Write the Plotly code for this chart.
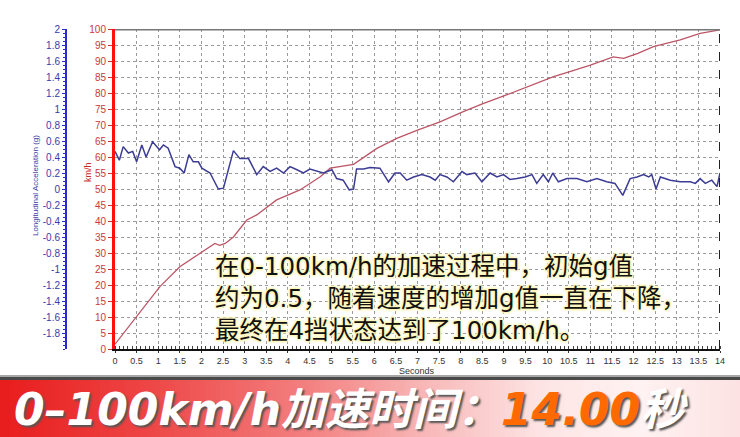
import plotly.graph_objects as go

# ---- data ----
speed_t = [0, 0.5, 1.04, 1.5, 1.97, 2.31, 2.42, 2.55, 2.74, 3.05, 3.28, 3.74, 4.28, 4.75, 4.98,
           5.52, 6.06, 6.52, 7.0, 7.52, 8.06, 8.5, 9.06, 9.6, 10.15, 10.6, 11.0, 11.53, 11.77,
           12.1, 12.46, 13.08, 13.54, 14.0]
speed_v = [1.5, 10.1, 19.5, 25.7, 29.9, 33.0, 32.4, 33.0, 35.0, 40.3, 41.9, 46.6, 49.7, 53.8, 56.5,
           57.7, 62.7, 65.8, 68.4, 71.0, 74.2, 76.6, 79.4, 82.3, 85.1, 87.0, 88.7, 91.3, 90.8,
           92.4, 94.5, 96.6, 98.6, 99.7]

g_t = [0, 0.10, 0.19, 0.31, 0.41, 0.50, 0.62, 0.72, 0.87, 1.03, 1.12, 1.23, 1.39, 1.50, 1.60,
       1.71, 1.81, 1.93, 2.01, 2.20, 2.39, 2.51, 2.74, 2.89, 2.97, 3.09, 3.28, 3.43, 3.59, 3.74,
       3.90, 4.05, 4.21, 4.36, 4.51, 4.67, 4.82, 5.02, 5.13, 5.28, 5.42, 5.52, 5.59, 5.75, 5.90,
       6.13, 6.33, 6.48, 6.60, 6.75, 6.91, 7.10, 7.29, 7.41, 7.52, 7.68, 7.83, 8.03, 8.14, 8.33,
       8.49, 8.68, 8.84, 8.99, 9.14, 9.30, 9.49, 9.65, 9.76, 9.91, 10.03, 10.13, 10.26, 10.46,
       10.69, 10.92, 11.15, 11.38, 11.57, 11.75, 11.92, 12.08, 12.23, 12.35, 12.42, 12.52, 12.62,
       12.85, 13.08, 13.31, 13.43, 13.54, 13.66, 13.81, 13.93, 14.0]
g_v = [0.47, 0.36, 0.53, 0.45, 0.47, 0.34, 0.55, 0.40, 0.59, 0.49, 0.55, 0.51, 0.28, 0.26, 0.20,
       0.43, 0.34, 0.34, 0.26, 0.20, 0.00, 0.01, 0.48, 0.38, 0.38, 0.38, 0.18, 0.28, 0.22, 0.26,
       0.20, 0.28, 0.24, 0.20, 0.25, 0.22, 0.20, 0.24, 0.13, 0.11, -0.01, 0.00, 0.25, 0.25, 0.27,
       0.26, 0.09, 0.20, 0.20, 0.11, 0.15, 0.18, 0.15, 0.11, 0.18, 0.15, 0.09, 0.22, 0.18, 0.20,
       0.09, 0.20, 0.15, 0.18, 0.12, 0.13, 0.15, 0.18, 0.07, 0.18, 0.09, 0.20, 0.09, 0.13,
       0.13, 0.09, 0.13, 0.09, 0.07, -0.08, 0.13, 0.15, 0.18, 0.15, 0.18, 0.00, 0.15,
       0.11, 0.09, 0.09, 0.07, 0.13, 0.07, 0.11, 0.03, 0.20]

x_tickvals = [i * 0.5 for i in range(29)]
x_ticktext = ["0", "0.5", "1", "1.5", "2", "2.5", "3", "3.5", "4", "4.5", "5", "5.5", "6", "6.5",
              "7", "7.5", "8", "8.5", "9", "9.5", "10", "10.5", "11", "11.5", "12", "12.5",
              "13", "13.5", "14"]
kmh_tickvals = list(range(0, 101, 5))
g_tickvals = [2, 1.8, 1.6, 1.4, 1.2, 1, 0.8, 0.6, 0.4, 0.2, 0, -0.2, -0.4, -0.6, -0.8, -1,
              -1.2, -1.4, -1.6, -1.8]
g_ticktext = ["2", "1.8", "1.6", "1.4", "1.2", "1", "0.8", "0.6", "0.4", "0.2", "0", "-0.2",
              "-0.4", "-0.6", "-0.8", "-1", "-1.2", "-1.4", "-1.6", "-1.8"]

note_lines = ["在0-100km/h的加速过程中，初始g值",
              "约为0.5，随着速度的增加g值一直在下降，",
              "最终在4挡状态达到了100km/h。"]
banner_main = "0–100km/h加速时间："
banner_time = "14.00"
banner_unit = "秒"

W, H = 740, 437
def px(x):
    return x / W
def py(y):
    return 1 - y / H

fig = go.Figure()
fig.add_trace(go.Scatter(x=speed_t, y=speed_v, mode="lines",
                         line=dict(color="#bc5666", width=1.3), yaxis="y", showlegend=False))
fig.add_trace(go.Scatter(x=g_t, y=g_v, mode="lines",
                         line=dict(color="#3c3c94", width=1.5), yaxis="y2", showlegend=False))

base_font = "Arial, Liberation Sans, sans-serif"

fig.update_layout(
    width=W, height=H,
    margin=dict(l=0, r=0, t=0, b=0, autoexpand=False),
    paper_bgcolor="white", plot_bgcolor="white",
    font=dict(family=base_font, size=10, color="#333"),
    xaxis=dict(domain=[px(115), px(720)], range=[0, 14], tickvals=x_tickvals, ticktext=x_ticktext,
               showgrid=True, gridcolor="#9a9a9a", griddash="dot", gridwidth=1,
               showline=True, linecolor="#111", linewidth=2, zeroline=False,
               ticks="outside", ticklen=2, tickcolor="#333",
               tickfont=dict(size=9, color="#333"), automargin=False,
               minor=dict(dtick=0.1, ticks="inside", ticklen=3, tickcolor="#444", showgrid=False)),
    yaxis=dict(domain=[1 - 349 / H, 1 - 29 / H], range=[0, 100], tickvals=kmh_tickvals,
               showgrid=True, gridcolor="#9a9a9a", griddash="dot", gridwidth=1,
               showline=True, linecolor="#ff1010", linewidth=3, zeroline=False,
               ticks="outside", ticklen=4, tickcolor="#d03030", automargin=False,
               tickfont=dict(size=10, color="#c83a3a")),
    yaxis2=dict(overlaying="y", anchor="free", position=px(66), side="left",
                range=[-2, 2], tickvals=g_tickvals, ticktext=g_ticktext,
                showgrid=False, zeroline=False, automargin=False,
                showline=True, linecolor="#2a2ad0", linewidth=2,
                ticks="outside", ticklen=3, tickcolor="#2a2ad0",
                tickfont=dict(size=10, color="#3a3aa8"),
                minor=dict(dtick=0.05, ticks="outside", ticklen=2, tickcolor="#2a2ad0")),
)

shapes = []
shapes.append(dict(type="line", xref="x", yref="y", x0=0, x1=14, y0=100, y1=100,
                   line=dict(color="#777", width=3)))
shapes.append(dict(type="line", xref="x", yref="y", x0=14, x1=14, y0=0, y1=100,
                   line=dict(color="#222", width=2, dash="dash")))

stops = [(0, (232, 28, 28)), (150, (238, 70, 70)), (300, (243, 125, 125)),
         (430, (248, 185, 185)), (540, (253, 228, 228)), (640, (255, 242, 242)),
         (740, (252, 226, 226))]
def col_at(x):
    for (x0, c0), (x1, c1) in zip(stops[:-1], stops[1:]):
        if x0 <= x <= x1:
            f = (x - x0) / (x1 - x0)
            return "rgb(%d,%d,%d)" % tuple(round(a + (b - a) * f) for a, b in zip(c0, c1))
    return "rgb(%d,%d,%d)" % stops[-1][1]
step = 5
for xs in range(0, W, step):
    shapes.append(dict(type="rect", xref="paper", yref="paper", layer="below",
                       x0=px(xs), x1=px(xs + step + 0.6), y0=py(437), y1=py(380),
                       fillcolor=col_at(xs + step / 2), line=dict(width=0)))
shapes.append(dict(type="rect", xref="paper", yref="paper", x0=0, x1=1, y0=py(380), y1=py(377),
                   fillcolor="#4a4a4a", line=dict(width=0)))
shapes.append(dict(type="rect", xref="paper", yref="paper", x0=0, x1=1, y0=py(377), y1=py(375),
                   fillcolor="#a8a8a8", line=dict(width=0)))
fig.update_layout(shapes=shapes)

glow = ("0 0 2px #fff6b8, 0 0 3px #fff6b8, 1px 1px 2px #fff6b8, -1px -1px 2px #fff6b8, "
        "1px -1px 2px #fff6b8, -1px 1px 2px #fff6b8")
ann = []
for i, line in enumerate(note_lines):
    ann.append(dict(xref="paper", yref="paper", x=px(213), y=py(266 + 32 * i),
                    xanchor="left", yanchor="middle", showarrow=False, text=line,
                    font=dict(family="DejaVu Sans, Noto Sans CJK SC, sans-serif", size=24.5,
                              color="#111", shadow=glow)))
ann.append(dict(xref="paper", yref="paper", x=px(417), y=py(371), xanchor="center",
                yanchor="middle", showarrow=False,
                text="Seconds", font=dict(size=9, color="#333")))
ann.append(dict(xref="paper", yref="paper", x=px(88), y=py(172), showarrow=False, textangle=-90,
                xanchor="center", yanchor="middle",
                text="km/h", font=dict(size=9, color="#cc2a2a")))
ann.append(dict(xref="paper", yref="paper", x=px(36), y=py(186), showarrow=False, textangle=-90,
                xanchor="center", yanchor="middle",
                text="Longitudinal Acceleration (g)", font=dict(size=8, color="#3a3aa8")))
ann.append(dict(xref="paper", yref="paper", x=px(12), y=py(409), xanchor="left", yanchor="middle",
                showarrow=False,
                text="<b><i>" + banner_main + "<span style='color:#ff6a00'>" + banner_time +
                     "</span>" + banner_unit + "</i></b>",
                font=dict(family="DejaVu Sans, Noto Sans CJK SC, sans-serif", size=44,
                          color="white", shadow="2px 2px 2px #555")))
fig.update_layout(annotations=ann)

fig.write_html("out.html", config={"displayModeBar": False},
               post_script="document.body.style.margin='0';document.body.style.padding='0';")
